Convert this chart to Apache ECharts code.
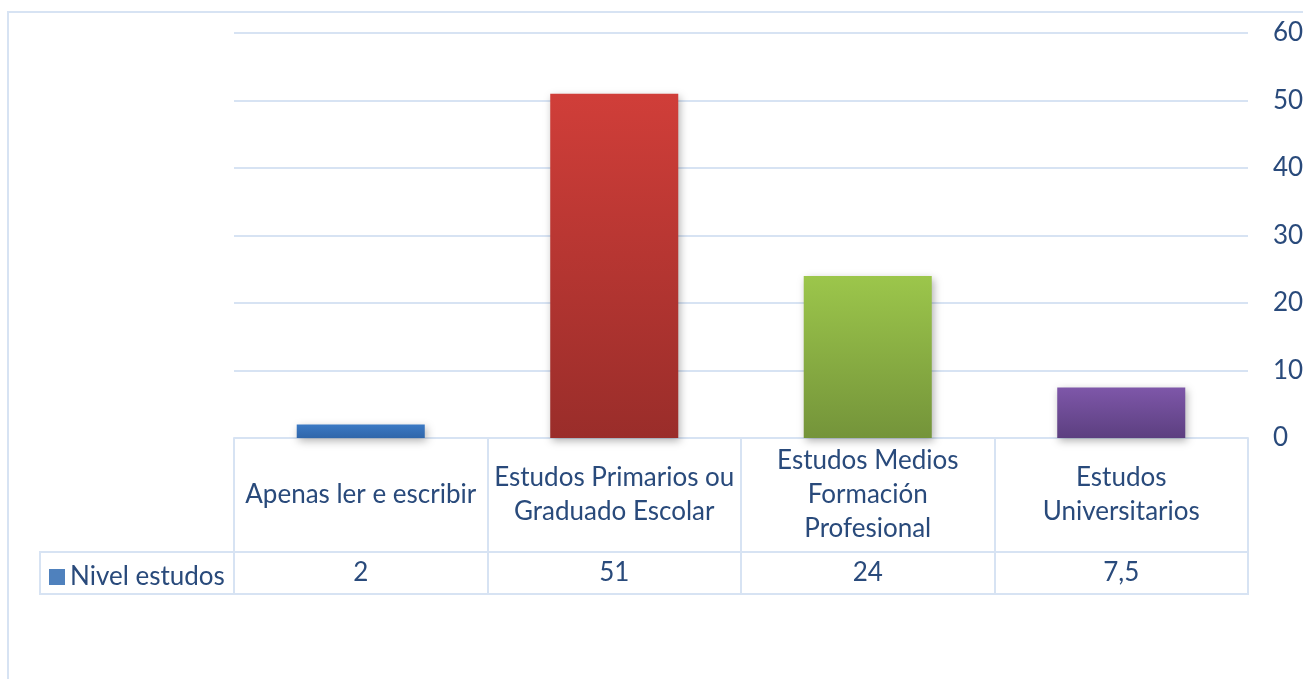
<!DOCTYPE html>
<html>
<head>
<meta charset="utf-8">
<script src="https://cdn.jsdelivr.net/npm/echarts@6/dist/echarts.min.js"></script>
<style>
  html, body { margin: 0; padding: 0; background: #fff; }
  #chart { width: 1303px; height: 679px; }
</style>
</head>
<body>
<div id="chart"></div>
<script>
const categories = [
  'Apenas ler e escribir',
  'Estudos Primarios ou\nGraduado Escolar',
  'Estudos Medios\nFormación\nProfesional',
  'Estudos\nUniversitarios'
]
const seriesName = 'Nivel estudos'
const values = [2, 51, 24, 7.5]
const yTicks = [0, 10, 20, 30, 40, 50, 60]
const barTop = ['#3b79c4', '#d03e39', '#9cc64b', '#7e57a9']
const barBottom = ['#2f66aa', '#9a2d2a', '#74943a', '#5c3f80']

const textColor = '#294a7b'
const lineColor = '#d7e3f3'
const font = 'Lato'
const fontSize = 26

const chart = echarts.init(document.getElementById('chart'))

const valueLabels = values.map(v => String(v).replace('.', ','))

chart.setOption({
  animation: false,
  grid: {
    left: 234,
    right: 55,
    top: 33,
    bottom: 241,
    containLabel: false,
    outerBoundsMode: 'none'
  },
  legend: {
    data: [seriesName],
    left: 44,
    top: 559,
    itemWidth: 16,
    itemHeight: 16,
    icon: 'rect',
    selectedMode: false,
    textStyle: { color: textColor, fontSize: fontSize, fontFamily: font }
  },
  xAxis: [
    {
      type: 'category',
      data: categories,
      axisLine: { lineStyle: { color: lineColor, width: 2 } },
      axisTick: { show: true, interval: 0, length: 157, lineStyle: { color: lineColor, width: 2 } },
      axisLabel: {
        interval: 0,
        margin: 57,
        verticalAlign: 'middle',
        lineHeight: 34,
        color: textColor,
        fontSize: fontSize,
        fontFamily: font
      }
    },
    {
      type: 'category',
      data: valueLabels,
      position: 'bottom',
      offset: 114,
      axisLine: { lineStyle: { color: lineColor, width: 2 } },
      axisTick: { show: false },
      axisLabel: {
        interval: 0,
        margin: 21,
        verticalAlign: 'middle',
        color: textColor,
        fontSize: fontSize,
        fontFamily: font
      }
    },
    {
      type: 'category',
      data: valueLabels,
      position: 'bottom',
      offset: 156,
      axisLine: { lineStyle: { color: lineColor, width: 2 } },
      axisTick: { show: false },
      axisLabel: { show: false }
    }
  ],
  yAxis: {
    type: 'value',
    position: 'right',
    min: yTicks[0],
    max: yTicks[yTicks.length - 1],
    interval: yTicks[1] - yTicks[0],
    axisLine: { show: false },
    axisTick: { show: false },
    splitLine: { lineStyle: { color: lineColor, width: 2 } },
    axisLabel: { margin: 25, color: textColor, fontSize: fontSize, fontFamily: font }
  },
  graphic: [
    {
      type: 'rect',
      shape: { x: 8, y: 12, width: 1400, height: 800 },
      style: { fill: 'none', stroke: lineColor, lineWidth: 2 },
      silent: true
    },
    {
      type: 'polyline',
      shape: { points: [[234, 552], [40, 552], [40, 594], [234, 594]] },
      style: { fill: 'none', stroke: lineColor, lineWidth: 2 },
      silent: true
    }
  ],
  series: [
    {
      name: seriesName,
      type: 'bar',
      xAxisIndex: 0,
      barCategoryGap: '49.5%',
      itemStyle: {
        color: '#4f81bd',
        shadowBlur: 8,
        shadowOffsetX: 2,
        shadowOffsetY: 3,
        shadowColor: 'rgba(0,0,0,0.3)'
      },
      data: values.map((v, i) => ({
        value: v,
        itemStyle: {
          color: new echarts.graphic.LinearGradient(0, 0, 0, 1, [
            { offset: 0, color: barTop[i] },
            { offset: 1, color: barBottom[i] }
          ])
        }
      }))
    }
  ]
})
</script>
</body>
</html>
